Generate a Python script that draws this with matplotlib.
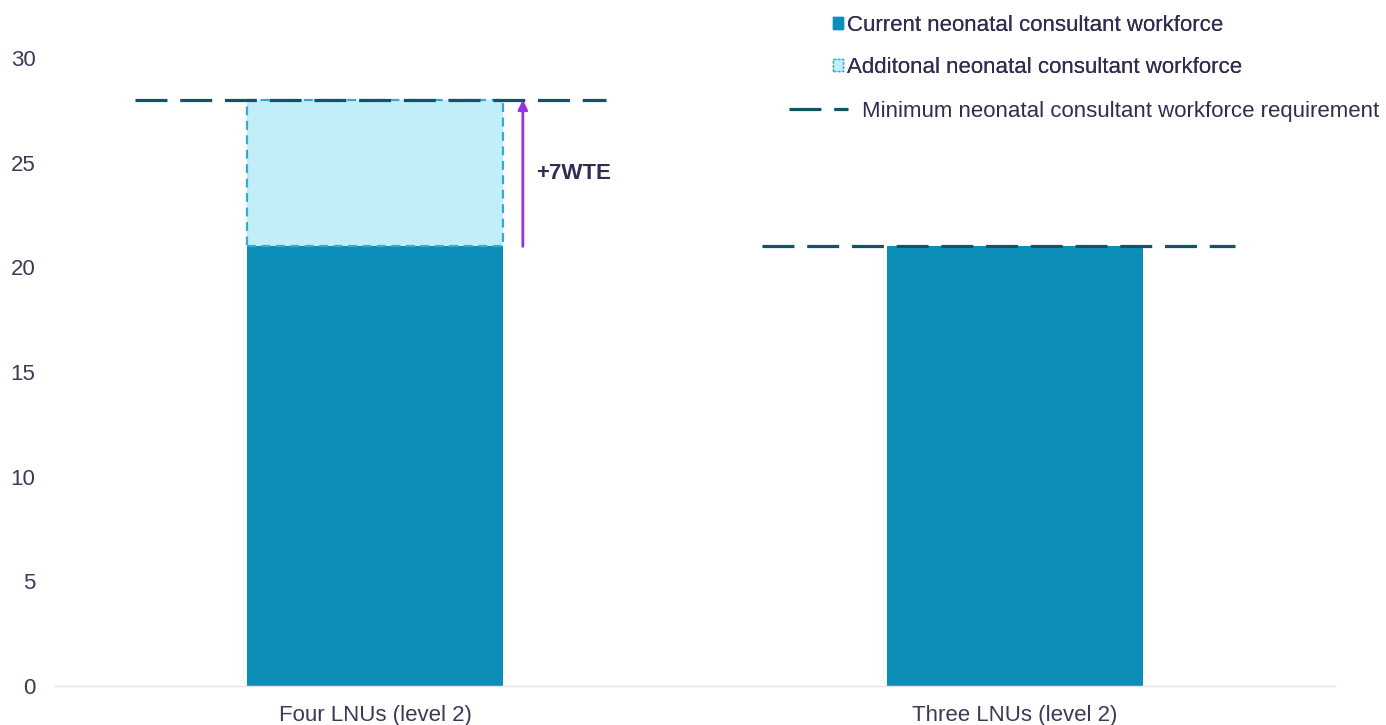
import numpy as np
import matplotlib
matplotlib.use("Agg")
from matplotlib import pyplot as plt
from matplotlib.lines import Line2D
from matplotlib.patches import Patch

plt.rcParams['font.family'] = ['Liberation Sans', 'DejaVu Sans']

# data
categories = ["Four LNUs (level 2)", "Three LNUs (level 2)"]
current = [21, 21]
additional = [7, 0]
minimum = [28, 21]
gap_label = "+7WTE"

# colours
c_current = "#0b8fb8"
c_add_fill = "#c2eefa"
c_add_edge = "#3aa8c8"
c_min = "#0f5565"
c_arrow = "#9633e0"
c_text = "#2e2e50"

fig = plt.figure(figsize=(13.86, 7.25), dpi=100)
ax = fig.add_axes([55 / 1386, 1 - 686 / 725, 1280 / 1386, (686 - 58) / 725])

x = np.arange(len(categories))
ax.bar(x, current, width=0.4, color=c_current, zorder=2)
for xi, base, extra in zip(x, current, additional):
    if extra > 0:
        ax.bar(xi, extra, bottom=base, width=0.4, color=c_add_fill,
               edgecolor=c_add_edge, linewidth=1.6, linestyle=(0, (4, 2.5)), zorder=2)

# minimum requirement lines (extent left/right of bar centre)
line_span = [(-0.375, 0.361), (-0.396, 0.343)]
for xi, m, (lo, hi) in zip(x, minimum, line_span):
    ax.hlines(m, xi + lo, xi + hi, colors=c_min, linewidth=2.3,
              linestyles=[(0, (10, 4))], zorder=3)

# gap arrow
ax.annotate("", xy=(0.231, minimum[0]), xytext=(0.231, current[0]),
            arrowprops=dict(arrowstyle="-|>", color=c_arrow, lw=2,
                            mutation_scale=14, shrinkA=0, shrinkB=0))
ax.text(0.251, 24.5, gap_label, fontsize=16, fontweight="bold",
        color=c_text, va="center", ha="left")

ax.set_xlim(-0.5, 1.5)
ax.set_ylim(0, 30)
ax.set_yticks(np.arange(0, 31, 5))
ax.set_xticks(x)
ax.set_xticklabels(categories)
ax.tick_params(axis="both", length=0, labelsize=16, colors="#3a3a58")
ax.tick_params(axis="y", pad=14)
ax.tick_params(axis="x", pad=14)
for side in ["top", "right", "left"]:
    ax.spines[side].set_visible(False)
ax.spines["bottom"].set_color("#e4e4f2")
ax.spines["bottom"].set_linewidth(1)

# legend
h_cur = Patch(facecolor=c_current, edgecolor=c_current)
h_add = Patch(facecolor=c_add_fill, edgecolor=c_add_edge, linestyle=(0, (2, 1)))
leg1 = fig.legend([h_cur, h_add],
                  ["Current neonatal consultant workforce",
                   "Additonal neonatal consultant workforce"],
                  loc="upper left", bbox_to_anchor=(833 / 1386, 1 - 15 / 725),
                  frameon=False, fontsize=16, handlelength=0.45, handleheight=0.45,
                  handletextpad=0.2, labelspacing=0.95, borderpad=0,
                  borderaxespad=0, labelcolor=c_text)
h_min = Line2D([], [], color=c_min, lw=2.3, linestyle=(0, (10, 4)))
leg2 = fig.legend([h_min], ["Minimum neonatal consultant workforce requirement"],
                  loc="upper left", bbox_to_anchor=(789 / 1386, 1 - 101 / 725),
                  frameon=False, fontsize=16, handlelength=2.65,
                  handletextpad=0.65, borderpad=0, borderaxespad=0,
                  labelcolor=c_text)
fig.add_artist(leg1)

fig.savefig("out.png", dpi=100)
